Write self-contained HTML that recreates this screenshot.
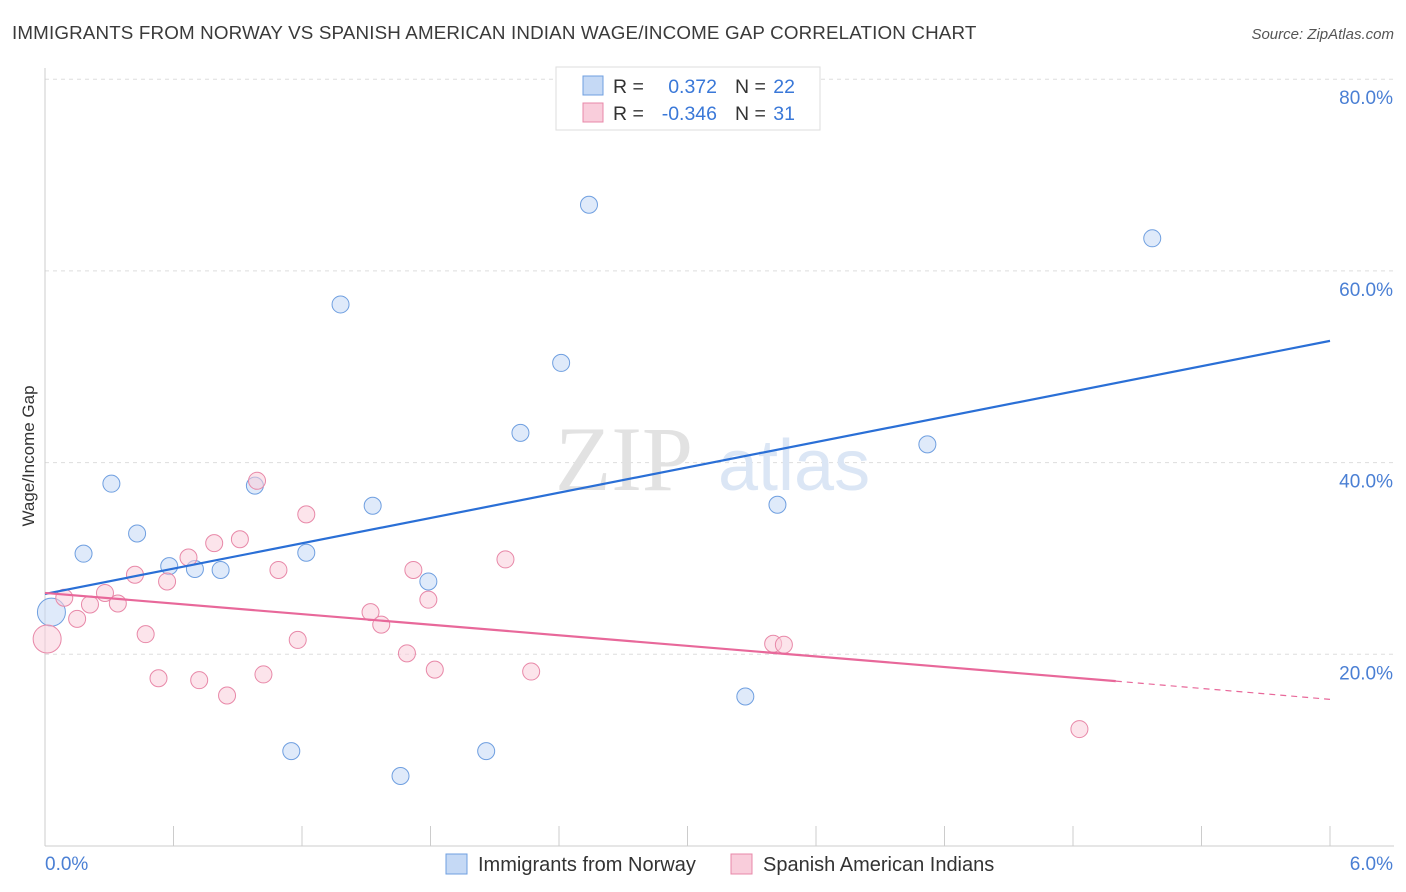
<!DOCTYPE html>
<html><head><meta charset="utf-8"><style>
body{margin:0;background:#fff;font-family:"Liberation Sans",sans-serif;}
#wrap{position:relative;width:1406px;height:892px;overflow:hidden;}
</style></head><body>
<div id="wrap">
<svg id="chart" width="1406" height="892"></svg>
</div>
<script>
const xTicks=[0,6];
const yTicks=[20,40,60,80];
const norwayX=[0.03,0.18,0.31,0.43,0.58,0.70,0.82,0.98,1.15,1.22,1.38,1.53,1.66,1.79,2.06,2.22,2.41,2.54,3.27,3.42,4.12,5.17];
const norwayY=[24.4,30.5,37.8,32.6,29.2,28.9,28.8,37.6,9.9,30.6,56.5,35.5,7.3,27.6,9.9,43.1,50.4,66.9,15.6,35.6,41.9,63.4];
const spanishX=[0.01,0.09,0.15,0.21,0.28,0.34,0.42,0.47,0.53,0.57,0.67,0.72,0.79,0.85,0.91,0.99,1.02,1.09,1.18,1.22,1.52,1.57,1.69,1.72,1.79,1.82,2.15,2.27,3.40,3.45,4.83];
const spanishY=[21.6,25.9,23.7,25.2,26.4,25.3,28.3,22.1,17.5,27.6,30.1,17.3,31.6,15.7,32.0,38.1,17.9,28.8,21.5,34.6,24.4,23.1,20.1,28.8,25.7,18.4,29.9,18.2,21.1,21.0,12.2];
const blueTrendX=[0,6];
const blueTrendY=[26.3,52.7];
const pinkTrendX=[0,5.0,6];
const pinkTrendY=[26.4,17.2,15.3];
const NS="http://www.w3.org/2000/svg";
const svg=document.getElementById('chart');
const X0=45,X1=1330,Y0=846,PX20=191.7;
const sx=v=>X0+(v/6)*(X1-X0);
const sy=v=>Y0-v/20*PX20;
function mk(tag,attrs,parent){const e=document.createElementNS(NS,tag);for(const k in attrs)e.setAttribute(k,attrs[k]);(parent||svg).appendChild(e);return e;}
let t=mk('text',{x:12,y:39,'font-size':18.8,fill:'#3a3a3a','letter-spacing':'0.15'});t.textContent='IMMIGRANTS FROM NORWAY VS SPANISH AMERICAN INDIAN WAGE/INCOME GAP CORRELATION CHART';


t=mk('text',{x:1394,y:39,'font-size':15,fill:'#555','font-style':'italic','text-anchor':'end'});t.textContent='Source: ZipAtlas.com';


yTicks.forEach(v=>{
 const l=mk('line',{x1:X0,x2:1394,y1:sy(v),y2:sy(v),stroke:'#dddddd','stroke-dasharray':'4,4'});
 
 
 const tx=mk('text',{x:1393,y:sy(v)+25,'font-size':19,fill:'#4a7fd4','text-anchor':'end'});tx.textContent=v.toFixed(1)+'%';
 
 
});
let a=mk('line',{x1:X0,x2:X0,y1:68,y2:Y0,stroke:'#ccc'});

a=mk('line',{x1:X0,x2:1394,y1:Y0,y2:Y0,stroke:'#ccc'});

for(let i=0;i<=10;i++){const tk=mk('line',{x1:sx(i*0.6),x2:sx(i*0.6),y1:826,y2:Y0,stroke:'#ccc'});
 }
xTicks.forEach((v,i)=>{const tx=mk('text',{x:i==0?45:1393,y:870,'font-size':19,fill:'#4a7fd4','text-anchor':i==0?'start':'end'});tx.textContent=v.toFixed(1)+'%';
 });
t=mk('text',{x:34,y:456,'font-size':17,fill:'#333','text-anchor':'middle',transform:'rotate(-90 34 456)'});t.textContent='Wage/Income Gap';

t=mk('text',{x:555,y:490,'font-size':92,fill:'#e2e2e2','font-family':'Liberation Serif'});t.textContent='ZIP';

t=mk('text',{x:718,y:490,'font-size':72,fill:'#dbe6f5'});t.textContent='atlas';

function pts(xs,ys,fill,stroke,name){xs.forEach((x,i)=>{const r=(i==0&&x<0.05)?14:8.5;
 const c=mk('circle',{cx:sx(x),cy:sy(ys[i]),r:r,fill:fill,'fill-opacity':0.55,stroke:stroke,'stroke-width':1});
 });}
pts(norwayX,norwayY,'#c5d9f5','#6f9fe0','norway-point');
pts(spanishX,spanishY,'#f9cddb','#e888a8','spanish-point');
let ln=mk('line',{x1:sx(blueTrendX[0]),y1:sy(blueTrendY[0]),x2:sx(blueTrendX[1]),y2:sy(blueTrendY[1]),stroke:'#2a6fd6','stroke-width':2.2});

ln=mk('line',{x1:sx(pinkTrendX[0]),y1:sy(pinkTrendY[0]),x2:sx(pinkTrendX[1]),y2:sy(pinkTrendY[1]),stroke:'#e8689a','stroke-width':2.2});

ln=mk('line',{x1:sx(pinkTrendX[1]),y1:sy(pinkTrendY[1]),x2:sx(pinkTrendX[2]),y2:sy(pinkTrendY[2]),stroke:'#e8689a','stroke-width':1.2,'stroke-dasharray':'6,5'});

const lg=mk('g',{});
mk('rect',{x:556,y:67,width:264,height:63,fill:'#fff',stroke:'#ddd'},lg);
mk('rect',{x:583,y:76,width:20,height:19,fill:'#c5d9f5',stroke:'#6f9fe0'},lg);
mk('rect',{x:583,y:103,width:20,height:19,fill:'#f9cddb',stroke:'#e888a8'},lg);
function tt(x,y,s,c,anchor){const e=mk('text',{x:x,y:y,'font-size':19.5,fill:c,'text-anchor':anchor||'start'},lg);e.textContent=s;}
tt(613,93,'R =','#333');tt(717,93,'0.372','#3a78d8','end');tt(735,93,'N =','#333');tt(795,93,'22','#3a78d8','end');
tt(613,120,'R =','#333');tt(717,120,'-0.346','#3a78d8','end');tt(735,120,'N =','#333');tt(795,120,'31','#3a78d8','end');
const bl=mk('g',{});
mk('rect',{x:446,y:854,width:21,height:20,fill:'#c5d9f5',stroke:'#6f9fe0'},bl);
let e=mk('text',{x:478,y:871,'font-size':20,fill:'#333'},bl);e.textContent='Immigrants from Norway';
mk('rect',{x:731,y:854,width:21,height:20,fill:'#f9cddb',stroke:'#e888a8'},bl);
e=mk('text',{x:763,y:871,'font-size':20,fill:'#333'},bl);e.textContent='Spanish American Indians';
</script>
</body></html>
